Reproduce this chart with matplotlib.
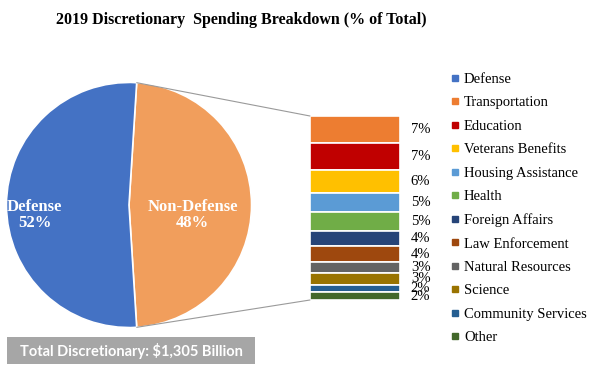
import matplotlib

matplotlib.use("Agg")
import matplotlib.pyplot as plt
import numpy as np
from matplotlib.lines import Line2D
from matplotlib.patches import ConnectionPatch, Rectangle

SERIF = ["Liberation Serif", "DejaVu Serif"]

pie_labels = ["Non-Defense", "Defense"]
pie_values = [48, 52]
pie_colors = ["#F19E5C", "#4472C4"]

categories = [
    "Transportation", "Education", "Veterans Benefits", "Housing Assistance",
    "Health", "Foreign Affairs", "Law Enforcement", "Natural Resources",
    "Science", "Community Services", "Other",
]
shares = [7, 7, 6, 5, 5, 4, 4, 3, 3, 2, 2]
bar_colors = [
    "#ED7D31", "#C00000", "#FFC000", "#5B9BD5", "#70AD47", "#264478",
    "#9E480E", "#636363", "#997300", "#255E91", "#43682B",
]
legend_labels = ["Defense"] + categories
legend_colors = ["#4472C4"] + bar_colors

W, H = 600, 384
fig = plt.figure(figsize=(6, 3.84), dpi=100)


def px_axes(x0, y0, x1, y1):
    # pixel box (top-left origin) -> figure axes
    return fig.add_axes([x0 / W, 1 - y1 / H, (x1 - x0) / W, (y1 - y0) / H])


# pie
ax_pie = px_axes(4, 80, 254, 330)
half = pie_values[0] / 100 * 360 / 2
wedges, _ = ax_pie.pie(
    pie_values, colors=pie_colors, startangle=-half, counterclock=True,
    wedgeprops=dict(edgecolor="white", linewidth=1.2), radius=1,
)
ax_pie.set_xlim(-1.02, 1.02)
ax_pie.set_ylim(-1.02, 1.02)
ax_pie.set_aspect("equal")
ax_pie.axis("off")
ax_pie.text(-0.77, -0.08, f"{pie_labels[1]}\n{pie_values[1]}%", ha="center", va="center",
            color="white", fontweight="bold", fontsize=12, family=SERIF, linespacing=1.05)
ax_pie.text(0.52, -0.08, f"{pie_labels[0]}\n{pie_values[0]}%", ha="center", va="center",
            color="white", fontweight="bold", fontsize=12, family=SERIF, linespacing=1.05)

# stacked breakdown bar
ax_bar = px_axes(310, 116, 400, 300)
total = sum(shares)
bottom = 0
for val, col in zip(shares, bar_colors):
    ax_bar.bar(0, val, width=1, bottom=bottom, color=col, edgecolor="white", linewidth=1.2)
    ax_bar.text(1.12, bottom + val / 2, f"{val}%", transform=ax_bar.get_yaxis_transform(),
                ha="left", va="center", fontsize=10.5, family=SERIF)
    bottom += val
ax_bar.set_xlim(-0.5, 0.5)
ax_bar.set_ylim(total, 0)
ax_bar.axis("off")

# connector lines
ang = np.deg2rad(half)
for py, by in [(np.sin(ang), 0), (-np.sin(ang), total)]:
    con = ConnectionPatch(xyA=(np.cos(ang), py), coordsA=ax_pie.transData,
                          xyB=(-0.5, by), coordsB=ax_bar.transData,
                          color="#9A9A9A", linewidth=0.8)
    fig.add_artist(con)

# legend
handles = [Line2D([], [], marker="s", linestyle="none", markersize=4.5, color=c) for c in legend_colors]
fig.legend(handles, legend_labels, loc="upper left", bbox_to_anchor=(445 / W, 1 - 67 / H),
           frameon=False, prop={"family": SERIF, "size": 10.5}, labelspacing=0.70,
           handlelength=0.6, handletextpad=0.3, borderaxespad=0)

# title
fig.text(241 / W, 1 - 20 / H, "2019 Discretionary  Spending Breakdown (% of Total)",
         ha="center", va="center", fontsize=11.5, fontweight="bold", family=SERIF)

# total box
fig.add_artist(Rectangle((7 / W, 1 - 364 / H), 248 / W, 27 / H, transform=fig.transFigure,
                         facecolor="#A6A6A6", edgecolor="none"))
fig.text(131 / W, 1 - 351 / H, "Total Discretionary: $1,305 Billion", ha="center", va="center",
         color="white", fontweight="bold", fontsize=10.5, family=["Lato", "DejaVu Sans"])

fig.savefig("out.png", dpi=100)
